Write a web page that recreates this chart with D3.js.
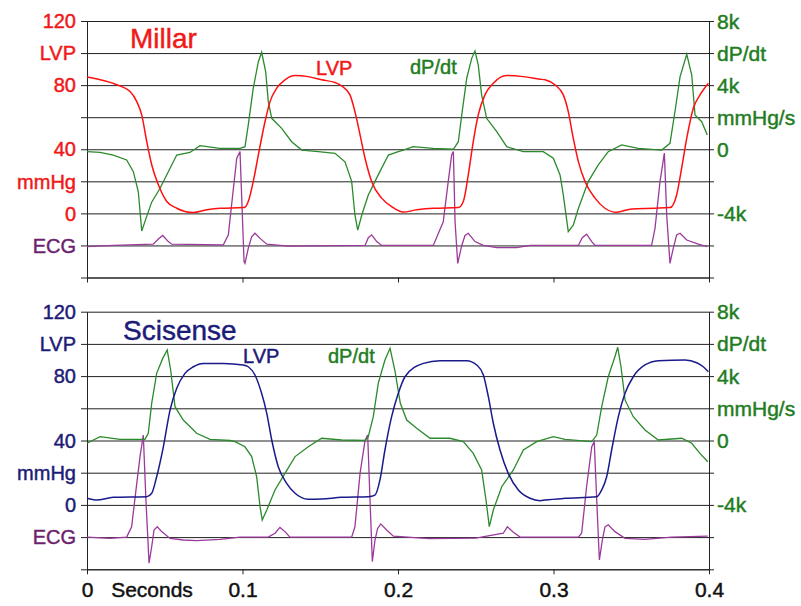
<!DOCTYPE html>
<html>
<head>
<meta charset="utf-8">
<script src="https://cdn.jsdelivr.net/npm/d3@7"></script>
<style>
  body { margin: 0; background: #fff; }
  svg { display: block; font-family: "Liberation Sans", Arial, sans-serif; }
  svg text { stroke-width: 0.45; }
  .grid line { stroke: #222; stroke-width: 1; }
  .grid path { display: none; }
  .axis path, .axis line { stroke: #222; stroke-width: 1; }
</style>
</head>
<body>
<div class="myChart"></div>
<script>
var svgWidth = 801;
var svgHeight = 606;

// time in seconds, pressure in mmHg, dP/dt in k mmHg/s, ECG in arbitrary units
var millarLVP = [[0, 85], [0.0191, 80.2], [0.0277, 76], [0.032, 69.7], [0.0352, 61.4], [0.0384, 44.8],
  [0.0416, 30.3], [0.0459, 17.8], [0.0513, 7.4], [0.0577, 3.2], [0.0684, 0.5], [0.077, 2.2], [0.0855, 3.2],
  [0.1005, 3.6], [0.1016, 3.8], [0.1037, 7.4], [0.1069, 19.8], [0.1102, 36.5], [0.1145, 57.3], [0.1177, 69.7],
  [0.122, 78.1], [0.1273, 83.3], [0.1338, 86], [0.1423, 85.3], [0.1509, 83.3], [0.1595, 81.6], [0.1638, 79.5],
  [0.1691, 73.9], [0.1723, 63.5], [0.1756, 49], [0.1788, 34.4], [0.1831, 19.8], [0.1895, 9.5], [0.1959, 4.2],
  [0.2034, 0.8], [0.212, 2.2], [0.2227, 3.2], [0.2388, 3.6], [0.242, 7.4], [0.2452, 24], [0.2484, 44.8],
  [0.2516, 61.4], [0.2559, 73.9], [0.2613, 81.2], [0.2699, 86], [0.2806, 85.3], [0.2913, 83.7], [0.2945, 83.3],
  [0.3009, 80.2], [0.3063, 73.9], [0.3095, 63.5], [0.3127, 46.9], [0.316, 32.3], [0.3203, 19.8], [0.3267, 9.5],
  [0.3331, 3.2], [0.3406, 0.7], [0.3503, 2.8], [0.3653, 3.2], [0.3749, 3.6], [0.3792, 11.5], [0.3824, 28.2],
  [0.3857, 46.9], [0.3899, 65.6], [0.3942, 73.9], [0.3996, 81.2]];

var millarDPDT = [[0, -0.15], [0.0084, -0.2], [0.0169, -0.36], [0.0255, -0.67], [0.0298, -1.4], [0.033, -2.65],
  [0.0352, -5.1], [0.0373, -4.5], [0.0416, -3.3], [0.0469, -2.45], [0.0523, -1.4], [0.0577, -0.36], [0.0662, -0.2],
  [0.0727, 0.22], [0.0855, 0.06], [0.0984, 0.06], [0.1016, 0.16], [0.1037, 1.5], [0.1069, 3.8], [0.1102, 5.46],
  [0.1123, 6.05], [0.1149, 4.84], [0.1166, 2.97], [0.1188, 1.93], [0.1252, 1.3], [0.1316, 0.47], [0.1381, -0.05],
  [0.1487, -0.15], [0.1595, -0.25], [0.1659, -0.78], [0.1702, -2.0], [0.1723, -4.1], [0.1741, -5.04],
  [0.1767, -4.1], [0.1809, -2.85], [0.1873, -1.6], [0.1938, -0.36], [0.2002, -0.15], [0.2034, -0.05],
  [0.2098, 0.16], [0.2227, 0.06], [0.2356, 0], [0.2388, 0.47], [0.241, 2.14], [0.2442, 4.43], [0.2474, 5.67],
  [0.2495, 6.13], [0.2516, 5.26], [0.2538, 3.38], [0.257, 1.93], [0.2635, 1.1], [0.2699, 0.16], [0.2806, -0.15],
  [0.2934, -0.15], [0.2999, -0.56], [0.3042, -1.6], [0.3063, -2.85], [0.3095, -5.14], [0.3127, -4.73],
  [0.316, -3.7], [0.3224, -2.0], [0.3288, -0.98], [0.3352, -0.15], [0.3438, 0.27], [0.3545, 0.06],
  [0.3696, -0.05], [0.3749, 0.37], [0.3781, 2.34], [0.3814, 4.53], [0.3857, 5.92], [0.3889, 4.63],
  [0.391, 2.14], [0.3953, 1.72], [0.3989, 0.89]];

var millarECG = [[0, -0.04], [0.0169, 0], [0.0426, 0.04], [0.0459, 0.2], [0.0487, 0.31], [0.0523, 0.12],
  [0.0545, 0.04], [0.0877, 0.02], [0.0909, 0.33], [0.0937, 1.58], [0.0963, 2.72], [0.0984, 2.93], [0.0999, 0.95],
  [0.101, -0.5], [0.1016, -0.56], [0.1037, -0.09], [0.1059, 0.27], [0.108, 0.38], [0.1113, 0.22], [0.1156, 0.04],
  [0.1295, -0.02], [0.1788, 0], [0.1809, 0.24], [0.1831, 0.33], [0.1863, 0.12], [0.1895, 0], [0.2227, 0],
  [0.2291, 0.74], [0.2323, 1.99], [0.2345, 2.82], [0.2356, 2.93], [0.2367, 0.74], [0.2384, -0.56], [0.241, 0],
  [0.2431, 0.31], [0.2452, 0.38], [0.2495, 0.12], [0.2549, 0], [0.2635, -0.07], [0.2763, -0.07], [0.2849, 0],
  [0.316, 0], [0.3185, 0.24], [0.3213, 0.35], [0.3246, 0.12], [0.3267, 0], [0.3631, 0], [0.3653, 0.54],
  [0.3685, 1.99], [0.3713, 2.88], [0.3728, 0.95], [0.3749, -0.56], [0.377, -0.09], [0.3792, 0.33],
  [0.3814, 0.38], [0.3857, 0.17], [0.3931, 0.04], [0.3989, -0.04]];

var sciLVP = [[0, 4.1], [0.0062, 3.0], [0.0169, 4.7], [0.0384, 5.1], [0.0416, 7.2], [0.0448, 17.5],
  [0.0491, 36.1], [0.0534, 58.9], [0.0577, 72.4], [0.063, 81.7], [0.0684, 85.8], [0.0748, 87.9], [0.0877, 87.9],
  [0.1005, 86.9], [0.1037, 85.8], [0.108, 80.7], [0.1123, 69.3], [0.1156, 56.9], [0.1188, 40.3], [0.123, 23.7],
  [0.1284, 13.4], [0.1338, 7.2], [0.1423, 3.5], [0.1509, 3.7], [0.1638, 4.7], [0.1809, 5.1], [0.1852, 6.1],
  [0.1884, 15.5], [0.1916, 34.1], [0.1959, 54.8], [0.2002, 69.3], [0.2045, 79.6], [0.2163, 87.9], [0.227, 89.6],
  [0.2442, 89.6], [0.2506, 86.9], [0.2549, 80.7], [0.2581, 67.2], [0.2613, 50.7], [0.2656, 34.1], [0.2709, 19.6],
  [0.2774, 9.3], [0.2849, 4.1], [0.2913, 2.6], [0.2945, 3.0], [0.3074, 4.1], [0.3278, 5.1], [0.331, 9.3],
  [0.3342, 17.5], [0.3374, 34.1], [0.3417, 54.8], [0.346, 69.3], [0.3513, 79.6], [0.3588, 86.9], [0.3674, 89.6],
  [0.3846, 90], [0.3921, 88.3], [0.3963, 85.8], [0.3996, 82.7]];

var sciDPDT = [[0, -0.17], [0.0084, 0.24], [0.0212, 0.07], [0.0373, 0.07], [0.0394, 0.45], [0.0416, 2.31],
  [0.0448, 4.17], [0.0487, 5.1], [0.0516, 5.62], [0.0538, 4.38], [0.0566, 2.1], [0.0619, 1.27], [0.0705, 0.45],
  [0.0791, 0.07], [0.092, 0], [0.0952, -0.07], [0.1016, -0.39], [0.1059, -1.0], [0.1091, -2.25], [0.1113, -4.11],
  [0.1127, -4.94], [0.1156, -4.32], [0.1209, -3.07], [0.1273, -2.04], [0.1338, -1.0], [0.1423, -0.39],
  [0.1509, 0.14], [0.1638, 0.03], [0.1788, 0], [0.1809, 0.24], [0.1841, 1.48], [0.1873, 3.55], [0.1916, 5.0],
  [0.1949, 5.73], [0.1981, 4.3], [0.2015, 2.31], [0.2056, 1.27], [0.212, 0.76], [0.2206, 0.14], [0.2334, 0.14],
  [0.242, -0.07], [0.2484, -0.8], [0.2538, -1.83], [0.2566, -3.7], [0.2587, -5.35], [0.2613, -4.32],
  [0.2667, -2.87], [0.2742, -1.83], [0.2806, -0.59], [0.2892, -0.07], [0.2999, 0.24], [0.3074, 0.07],
  [0.3246, -0.07], [0.3278, 0.34], [0.331, 2.1], [0.3352, 3.96], [0.3395, 5.2], [0.3413, 5.79], [0.3434, 4.58],
  [0.346, 2.52], [0.3513, 1.48], [0.3588, 0.65], [0.3674, 0.03], [0.3824, 0.14], [0.3889, -0.17],
  [0.3942, -0.8], [0.3992, -1.32]];

var sciECG = [[0, 0], [0.0148, -0.04], [0.0255, 0], [0.0287, 0.32], [0.032, 1.67], [0.0341, 2.5], [0.0362, 3.17],
  [0.0379, 1.15], [0.0399, -0.81], [0.0416, -0.3], [0.0431, 0.22], [0.0452, 0.32], [0.048, 0.17],
  [0.0534, -0.04], [0.0619, -0.09], [0.0705, -0.11], [0.0855, -0.07], [0.0984, 0], [0.1166, 0], [0.1209, 0.12],
  [0.1241, 0.3], [0.1273, 0.17], [0.1305, 0], [0.1702, 0], [0.1723, 0.32], [0.1756, 1.98], [0.1788, 3.0],
  [0.1805, 3.17], [0.182, 1.15], [0.1835, -0.76], [0.1852, -0.09], [0.1869, 0.27], [0.1889, 0.41],
  [0.1927, 0.22], [0.197, 0.03], [0.22, -0.05], [0.25, -0.03], [0.2677, 0.12], [0.2703, 0.32], [0.2742, 0.15],
  [0.2785, 0], [0.316, 0], [0.3181, 0.12], [0.3213, 1.57], [0.3246, 2.81], [0.3262, 2.96], [0.3278, 1.15],
  [0.3295, -0.71], [0.3314, -0.09], [0.3331, 0.32], [0.3352, 0.38], [0.3395, 0.17], [0.346, -0.04],
  [0.3588, -0.07], [0.376, 0], [0.3992, 0.03]];

var gridValues = [-40, -20, 0, 20, 40, 60, 80, 100, 120];
var leftTickValues = [120, 100, 80, 40, 20, 0, -20];
var leftTickText = ["120", "LVP", "80", "40", "mmHg", "0", "ECG"];
var rightTickValues = [8, 6, 4, 2, 0, -4];
var rightTickText = ["8k", "dP/dt", "4k", "mmHg/s", "0", "-4k"];
var timeTicks = [0, 0.1, 0.2, 0.3, 0.4];
var timeTickText = ["0", "0.1", "0.2", "0.3", "0.4"];

var svg = d3.select(".myChart")
  .append("svg")
  .attr("width", svgWidth)
  .attr("height", svgHeight);

svg.append("rect").attr("width", svgWidth).attr("height", svgHeight).attr("fill", "#fff");

var xScale = d3.scaleLinear().domain([0, 0.4]).range([87, 709]);

var green = "#2b8a2b";
var greenText = "#1f7d1f";
var ecgLine = "#9a3a9a";

var panels = [
  { title: "Millar", top: 21, bottom: 277.5, lvp: millarLVP, dpdt: millarDPDT, ecg: millarECG,
    color: "#f01818", lineColor: "#ff1010", labels: false,
    titlePos: [130, 48], lvpPos: [316, 75], dpdtPos: [410, 74] },
  { title: "Scisense", top: 311.7, bottom: 569.3, lvp: sciLVP, dpdt: sciDPDT, ecg: sciECG,
    color: "#1c1c78", lineColor: "#1a1a8c", labels: true,
    titlePos: [123, 340], lvpPos: [243, 363], dpdtPos: [328, 363] }
];

panels.forEach(function(p) {
  var yP = d3.scaleLinear().domain([-40, 120]).range([p.bottom, p.top]);
  var yD = d3.scaleLinear().domain([-8, 8]).range([p.bottom, p.top]);
  var yE = d3.scaleLinear().domain([-1, 7]).range([p.bottom, p.top]);
  var g = svg.append("g");

  // grid lines across the plot
  g.append("g")
    .attr("class", "grid")
    .attr("transform", "translate(" + xScale(0) + ",0)")
    .call(d3.axisLeft(yP).tickValues(gridValues).tickSize(-(xScale(0.4) - xScale(0))).tickFormat(""));

  g.append("g")
    .attr("class", "axis")
    .attr("transform", "translate(" + xScale(0) + ",0)")
    .call(d3.axisLeft(yP).tickValues(gridValues).tickSize(6).tickSizeOuter(0).tickFormat(""));

  g.append("g")
    .attr("class", "axis")
    .attr("transform", "translate(" + xScale(0.4) + ",0)")
    .call(d3.axisRight(yP).tickValues(gridValues).tickSize(5).tickSizeOuter(0).tickFormat(""));

  var bottomAxis = d3.axisBottom(xScale).tickValues(timeTicks).tickSize(5).tickSizeOuter(0).tickPadding(8)
    .tickFormat(function(d, i) { return p.labels ? timeTickText[i] : ""; });
  var bx = g.append("g")
    .attr("class", "axis")
    .attr("transform", "translate(0," + p.bottom + ")")
    .call(bottomAxis);
  bx.selectAll("text")
    .attr("font-size", 21)
    .attr("font-family", "'Liberation Sans', Arial, sans-serif")
    .attr("fill", "#111")
    .attr("stroke", "#111");

  // left labels
  g.selectAll(".lt")
    .data(leftTickValues)
    .enter().append("text")
    .attr("x", 76)
    .attr("y", function(d) { return yP(d); })
    .attr("dy", "0.36em")
    .attr("text-anchor", "end")
    .attr("font-size", 20)
    .attr("fill", function(d, i) { return leftTickText[i] === "ECG" ? "#6e1f6e" : p.color; })
    .attr("stroke", function(d, i) { return leftTickText[i] === "ECG" ? "#6e1f6e" : p.color; })
    .text(function(d, i) { return leftTickText[i]; });

  // right labels
  g.selectAll(".rt")
    .data(rightTickValues)
    .enter().append("text")
    .attr("x", 717)
    .attr("y", function(d) { return yD(d); })
    .attr("dy", "0.36em")
    .attr("font-size", 21)
    .attr("fill", greenText)
    .attr("stroke", greenText)
    .text(function(d, i) { return rightTickText[i]; });

  var line = d3.line()
    .x(function(d) { return xScale(d[0]); });

  g.append("path")
    .attr("d", line.y(function(d) { return yE(d[1]); })(p.ecg))
    .attr("fill", "none").attr("stroke", ecgLine).attr("stroke-width", 1.3);

  g.append("path")
    .attr("d", line.y(function(d) { return yD(d[1]); })(p.dpdt))
    .attr("fill", "none").attr("stroke", green).attr("stroke-width", 1.3);

  g.append("path")
    .attr("d", line.y(function(d) { return yP(d[1]); }).curve(d3.curveMonotoneX)(p.lvp))
    .attr("fill", "none").attr("stroke", p.lineColor).attr("stroke-width", 1.5);

  g.append("text")
    .attr("x", p.titlePos[0]).attr("y", p.titlePos[1])
    .attr("font-size", 28).attr("fill", p.color).attr("stroke", p.color)
    .text(p.title);

  g.append("text")
    .attr("x", p.lvpPos[0]).attr("y", p.lvpPos[1])
    .attr("font-size", 20).attr("fill", p.color).attr("stroke", p.color)
    .text("LVP");

  g.append("text")
    .attr("x", p.dpdtPos[0]).attr("y", p.dpdtPos[1])
    .attr("font-size", 20).attr("fill", greenText).attr("stroke", greenText)
    .text("dP/dt");
});

svg.append("text")
  .attr("x", 152)
  .attr("y", panels[1].bottom + 13)
  .attr("dy", "0.71em")
  .attr("text-anchor", "middle")
  .attr("font-size", 21)
  .attr("fill", "#111")
  .attr("stroke", "#111")
  .text("Seconds");
</script>
</body>
</html>
